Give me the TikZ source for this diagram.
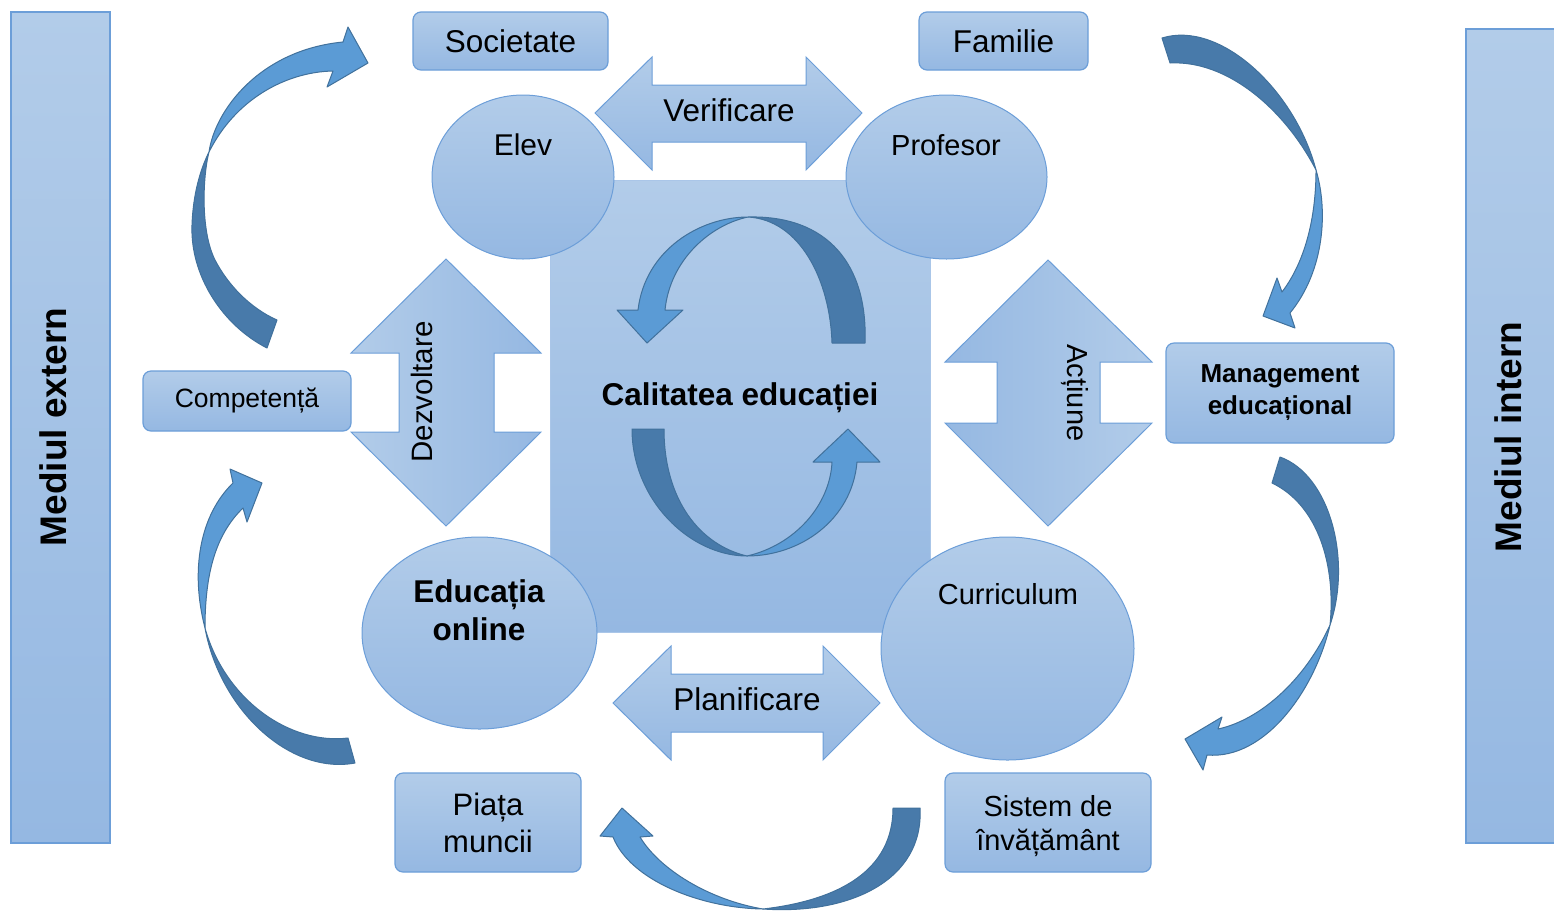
\documentclass[tikz,border=0pt]{standalone}
\usepackage{fontspec}
\setmainfont{Liberation Sans}
\usetikzlibrary{shapes.geometric}
\definecolor{fillA}{RGB}{178,204,233}
\definecolor{fillB}{RGB}{149,184,226}
\definecolor{edgeC}{RGB}{108,158,216}
\definecolor{sqEdge}{RGB}{170,198,232}
\definecolor{arrD}{RGB}{72,122,170}
\definecolor{arrL}{RGB}{91,155,213}
\definecolor{arrE}{RGB}{65,113,156}
\tikzset{
  shadebox/.style={top color=fillA, bottom color=fillB},
  rbox/.style={shadebox, draw=edgeC, line width=1.2pt, rounded corners=8pt, inner sep=0pt, align=center},
  sidebar/.style={shadebox, draw=edgeC, line width=1.5pt, inner sep=0pt},
  ell/.style={ellipse, shadebox, draw=edgeC, line width=1pt, inner sep=0pt},
  dblarrow/.style={draw=edgeC, line width=1pt, line join=miter},
  darkband/.style={fill=arrD, draw=arrE, line width=1pt, line join=round},
  lightband/.style={fill=arrL, draw=arrE, line width=1pt, line join=round},
  lbl/.style={inner sep=0pt, align=center, text=black},
}
\begin{document}
\begin{tikzpicture}[x=1pt,y=-1pt]
\useasboundingbox (0,0) rectangle (1554,911);

% side bars
\node[sidebar, minimum width=99pt, minimum height=831pt] (ext) at (60.5,427.5) {};
\node[lbl, rotate=90, font=\fontsize{37}{44}\selectfont\bfseries] (extT) at (53,427) {Mediul extern};
\node[sidebar, minimum width=92pt, minimum height=814pt] (int) at (1512,436) {};
\node[lbl, rotate=90, font=\fontsize{37}{44}\selectfont\bfseries] (intT) at (1508,437) {Mediul intern};

% centre square
\node[shadebox, draw=sqEdge, line width=0.6pt, minimum width=380pt, minimum height=452pt, inner sep=0pt] (sq) at (740,406) {};

% ellipses
\node[ell, minimum width=182pt, minimum height=164pt] (elev) at (523,177) {};
\node[lbl, font=\fontsize{30}{36}\selectfont] (elevT) at (523,145) {Elev};
\node[ell, minimum width=201pt, minimum height=164pt] (prof) at (946.5,177) {};
\node[lbl, font=\fontsize{29}{35}\selectfont] (profT) at (946,145) {Profesor};
\node[ell, minimum width=235pt, minimum height=192pt] (online) at (479.5,633) {};
\node[lbl, font=\fontsize{31.5}{38}\selectfont\bfseries] (onlineT) at (479,610) {Educația\\online};
\node[ell, minimum width=253pt, minimum height=223pt] (curr) at (1007.5,648.5) {};
\node[lbl, font=\fontsize{29}{35}\selectfont] (currT) at (1008,594) {Curriculum};

% boxes
\node[rbox, minimum width=195pt, minimum height=58pt, font=\fontsize{31.5}{37}\selectfont] (soc) at (510.5,41) {Societate};
\node[rbox, minimum width=169pt, minimum height=58pt, font=\fontsize{31.5}{37}\selectfont] (fam) at (1003.5,41) {Familie};
\node[rbox, minimum width=208pt, minimum height=60pt, font=\fontsize{26.5}{32}\selectfont] (comp) at (247,401) {Competență};
\node[rbox, minimum width=228pt, minimum height=100pt, font=\fontsize{26}{32}\selectfont\bfseries] (mgmt) at (1280,393) {Management\\educațional};
\node[rbox, minimum width=186pt, minimum height=99pt, font=\fontsize{31}{37}\selectfont] (piata) at (488,822.5) {Piața\\muncii};
\node[rbox, minimum width=206pt, minimum height=99pt, font=\fontsize{29}{34}\selectfont, text depth=0pt] (sist) at (1048,822.5) {Sistem de\\învățământ};

% double arrows
\path[dblarrow, top color=fillA, bottom color=fillB] (595,113) -- (652,57) -- (652,85) -- (806,85) -- (806,57) -- (862,113) -- (806,170) -- (806,142) -- (652,142) -- (652,170) -- cycle;
\node[lbl, font=\fontsize{31.5}{37}\selectfont] (verT) at (729,110) {Verificare};
\path[dblarrow, top color=fillA, bottom color=fillB] (613,703) -- (671,646) -- (671,674) -- (823,674) -- (823,646) -- (880,703) -- (823,760) -- (823,732) -- (671,732) -- (671,760) -- cycle;
\node[lbl, font=\fontsize{31.5}{37}\selectfont] (planT) at (747,699) {Planificare};
\path[dblarrow, left color=fillA, right color=fillB] (446,259) -- (541,353) -- (494,353) -- (494,432) -- (541,432) -- (446,526) -- (351,432) -- (399,432) -- (399,353) -- (351,353) -- cycle;
\node[lbl, rotate=90, font=\fontsize{29.5}{35}\selectfont] (dezT) at (422,392) {Dezvoltare};
\path[dblarrow, left color=fillB, right color=fillA] (1048,260) -- (1152,362) -- (1100,362) -- (1100,423) -- (1152,423) -- (1048,526) -- (945,423) -- (997,423) -- (997,362) -- (945,362) -- cycle;
\node[lbl, rotate=-90, font=\fontsize{29}{35}\selectfont] (actT) at (1075,393) {Acțiune};

% centre label
\node[lbl, font=\fontsize{31.5}{37}\selectfont\bfseries] (calT) at (740,398) {Calitatea educației};

% centre circular arrows
\path[darkband] (865,343) .. controls (868,265) and (828,215) .. (748,217)
  .. controls (800,220) and (830,280) .. (832,343) -- cycle;
\path[lightband] (748,217) .. controls (700,217) and (645,250) .. (638,310) -- (617,310) -- (647,343) -- (683,310) -- (665,310)
  .. controls (670,260) and (710,225) .. (748,217) -- cycle;
\path[darkband] (632,429) .. controls (632,500) and (690,556) .. (747,556)
  .. controls (700,545) and (664,500) .. (664,429) -- cycle;
\path[lightband] (747,556) .. controls (800,556) and (852,520) .. (857,462) -- (880,462) -- (848,429) -- (813,462) -- (832,462)
  .. controls (830,505) and (795,545) .. (747,556) -- cycle;

% outer curved arrows
% top-left
\path[darkband] (267,348) .. controls (222,325) and (190,275) .. (192,225) .. controls (193,195) and (200,170) .. (209,152)
  .. controls (203,175) and (200,230) .. (215,260) .. controls (228,285) and (250,308) .. (277,320) -- cycle;
\path[lightband] (209,152) .. controls (215,110) and (260,50) .. (343,42) -- (348,27) -- (368,63) -- (327,87) -- (333,71)
  .. controls (285,72) and (235,100) .. (209,152) -- cycle;
% top-right
\path[darkband] (1162,38) .. controls (1220,20) and (1295,90) .. (1316,170)
  .. controls (1285,110) and (1228,60) .. (1170,63) -- cycle;
\path[lightband] (1316,170) .. controls (1328,210) and (1325,270) .. (1290,313) -- (1295,328) -- (1263,316) -- (1277,278) -- (1282,292)
  .. controls (1310,255) and (1316,205) .. (1316,170) -- cycle;
% right-bottom
\path[darkband] (1280,457) .. controls (1330,475) and (1352,560) .. (1330,625)
  .. controls (1336,565) and (1318,505) .. (1272,483) -- cycle;
\path[lightband] (1330,625) .. controls (1315,690) and (1265,760) .. (1207,755) -- (1203,770) -- (1185,739) -- (1222,717) -- (1218,729)
  .. controls (1260,720) and (1305,680) .. (1330,625) -- cycle;
% bottom
\path[darkband] (920,808) .. controls (924,880) and (850,915) .. (763,909)
  .. controls (840,900) and (893,870) .. (893,808) -- cycle;
\path[lightband] (763,909) .. controls (700,908) and (630,880) .. (613,837) -- (600,836) -- (622,808) -- (653,836) -- (640,837)
  .. controls (660,870) and (710,900) .. (763,909) -- cycle;
% bottom-left
\path[darkband] (355,763) .. controls (290,775) and (220,710) .. (205,628)
  .. controls (225,700) and (290,745) .. (348,738) -- cycle;
\path[lightband] (205,628) .. controls (190,570) and (200,515) .. (233,483) -- (230,469) -- (262,483) -- (247,522) -- (243,508)
  .. controls (215,535) and (205,575) .. (205,628) -- cycle;
\end{tikzpicture}
\end{document}
